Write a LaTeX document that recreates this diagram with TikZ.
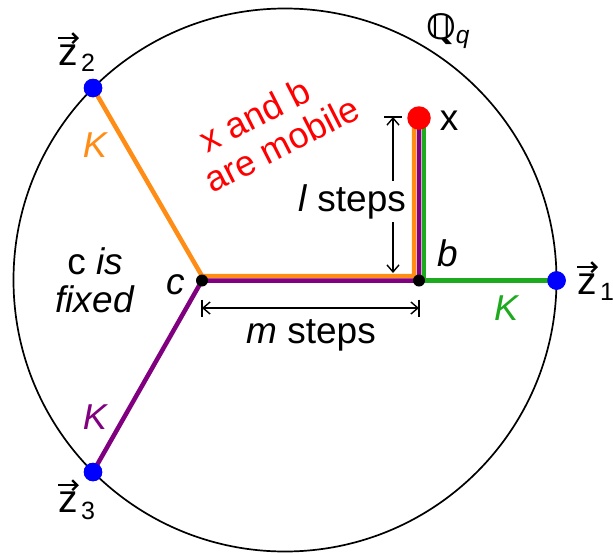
\documentclass[tikz,border=0pt]{standalone}
\usepackage{fontspec}
\setmainfont{Liberation Sans}
\newfontfamily\dejavu{DejaVu Sans}
\usetikzlibrary{arrows.meta}
\definecolor{cOrange}{RGB}{255,140,20}
\definecolor{cPurple}{RGB}{128,0,128}
\definecolor{cGreen}{RGB}{30,170,30}
\definecolor{cBlue}{RGB}{0,0,255}
\definecolor{cRed}{RGB}{255,0,0}
\begin{document}
\begin{tikzpicture}[x=1pt,y=-1pt,
  every node/.style={inner sep=0pt, font=\fontsize{37}{40}\selectfont},
  pathline/.style={line width=4.5pt, line join=miter},
  bdot/.style={circle, fill=cBlue, minimum size=18.5pt, inner sep=0pt},
  kdot/.style={circle, fill=black, minimum size=12pt, inner sep=0pt},
  xdot/.style={circle, fill=cRed, minimum size=23.5pt, inner sep=0pt},
  dimline/.style={line width=1.4pt},
  dimtip/.style={{Straight Barb[length=7pt,width=12pt]}-{Straight Barb[length=7pt,width=12pt]}},
  klbl/.style={font=\fontsize{36}{38}\selectfont\itshape},
  zarr/.style={line width=2.4pt, -{Straight Barb[length=5pt,width=10pt]}},
  subl/.style={font=\fontsize{25}{27}\selectfont}
]
\useasboundingbox (0,0) rectangle (613,552);
\draw[line width=1.7pt] (285,280) circle[radius=271.5pt];

% named points of the three paths
\coordinate (xO) at (414,118);
\coordinate (bO) at (414,276);
\coordinate (cO) at (202,276);
\coordinate (xP) at (419,118);
\coordinate (bP) at (419,280.5);
\coordinate (cP) at (202,280.5);
\coordinate (xG) at (424,118);
\coordinate (bG) at (424,280.5);

% end points on the circle
\node[bdot] (z1) at (556.5,280.5) {};
\node[bdot] (z2) at (93,88) {};
\node[bdot] (z3) at (93,472) {};

\draw[pathline, cOrange] (xO) -- (bO) -- (cO) -- (z2.center);
\draw[pathline, cPurple] (xP) -- (bP) -- (cP) -- (z3.center);
\draw[pathline, cGreen] (xG) -- (bG) -- (z1.center);

\node[bdot] at (z1) {};
\node[bdot] at (z2) {};
\node[bdot] at (z3) {};
\node[kdot] (c) at (202,280.5) {};
\node[kdot] (b) at (419,280.5) {};
\node[xdot] (x) at (419,118) {};

% dimension m
\coordinate (mL) at (202,308);
\coordinate (mR) at (419,308);
\draw[dimline, dimtip] (mL) -- (mR);
\draw[dimline] ([yshift=8.5pt]mL) -- ([yshift=-8.5pt]mL);
\draw[dimline] ([yshift=8.5pt]mR) -- ([yshift=-8.5pt]mR);
\node[anchor=base] (ms) at (311,343) {\textit{m} steps};

% dimension l
\coordinate (lT) at (393,117);
\coordinate (lB) at (393,273);
\draw[dimline, dimtip] (lT) -- (lB);
\draw[dimline] ([xshift=-9pt]lT) -- ([xshift=9pt]lT);
\node[anchor=base, fill=white, inner sep=3pt] (ls) at (352,211) {\textit{l} steps};

% labels
\node[klbl, text=cOrange, anchor=base] (k2) at (95,157) {K};
\node[klbl, text=cPurple, anchor=base] (k3) at (95,429) {K};
\node[klbl, text=cGreen, anchor=base] (k1) at (506,320) {K};
\node[anchor=base, font=\fontsize{37}{40}\selectfont\itshape] (lc) at (176,294) {c};
\node[anchor=base, font=\fontsize{37}{40}\selectfont\itshape] (lb) at (448,266) {b};
\node[anchor=base] (lx) at (449,130) {x};
\node[align=center, font=\fontsize{37}{38}\selectfont] (fix) at (95,280) {c \textit{is}\\\textit{fixed}};
\node[rotate=27, text=cRed, align=left, font=\fontsize{36}{38}\selectfont] (mob) at (273,127) {\hspace*{14pt}x and b\\are mobile};
\node[anchor=base, font=\fontsize{35}{38}\selectfont] (qq) at (448,39) {{\dejavu\bfseries ℚ}\textsubscript{\textit{q}}};

% vector labels
\node[anchor=base, font=\fontsize{39}{40}\selectfont] (zt1) at (587,294) {z};
\node[subl, anchor=base west] (zs1) at (600,300) {1};
\draw[zarr] ([yshift=6pt]zt1.north west) -- ([yshift=6pt,xshift=1pt]zt1.north east);
\node[anchor=base, font=\fontsize{39}{40}\selectfont] (zt2) at (68,65) {z};
\node[subl, anchor=base west] (zs2) at (81,71) {2};
\draw[zarr] ([yshift=6pt]zt2.north west) -- ([yshift=6pt,xshift=1pt]zt2.north east);
\node[anchor=base, font=\fontsize{39}{40}\selectfont] (zt3) at (68,512) {z};
\node[subl, anchor=base west] (zs3) at (81,519) {3};
\draw[zarr] ([yshift=6pt]zt3.north west) -- ([yshift=6pt,xshift=1pt]zt3.north east);
\end{tikzpicture}
\end{document}
